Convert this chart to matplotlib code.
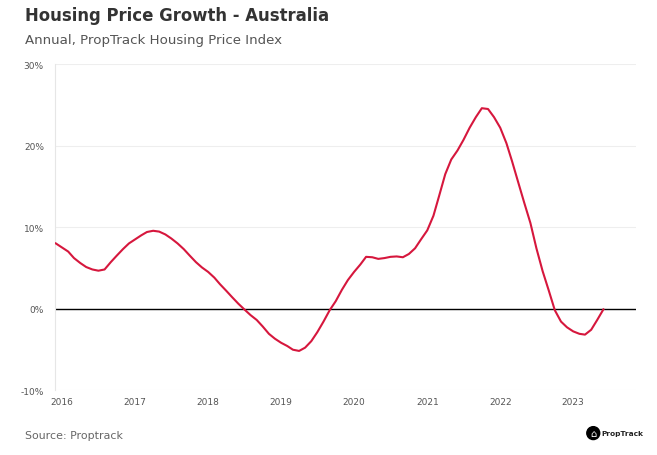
import numpy as np
import pandas as pd
import matplotlib
matplotlib.use('Agg')
import matplotlib.pyplot as plt

# monthly annual growth, Dec 2015 .. May 2023 (%)
months = pd.date_range('2015-12-01', periods=91, freq='MS')
growth = [8.0, 7.5, 7.0, 6.2, 5.6, 5.1, 4.8, 4.65, 4.8, 5.7,
          6.5, 7.3, 8.0, 8.5, 9.0, 9.4, 9.55, 9.45, 9.1, 8.6,
          8.0, 7.3, 6.5, 5.7, 5.05, 4.5, 3.8, 3.0, 2.2, 1.4,
          0.6, -0.1, -0.8, -1.4, -2.2, -3.1, -3.7, -4.2, -4.6, -5.05,
          -5.2, -4.8, -4.0, -2.9, -1.6, -0.2, 0.9, 2.3, 3.5, 4.5,
          5.4, 6.35, 6.3, 6.1, 6.2, 6.35, 6.4, 6.3, 6.7, 7.4,
          8.5, 9.6, 11.4, 13.8, 16.5, 18.3, 19.4, 20.7, 22.2, 23.5,
          24.6, 24.5, 23.5, 22.2, 20.3, 18.1, 15.5, 13.0, 10.5, 7.4,
          4.6, 2.2, -0.2, -1.6, -2.3, -2.8, -3.1, -3.2, -2.6, -1.4,
          -0.1]
years = list(range(2016, 2024))
yticks = [-10, 0, 10, 20, 30]

plt.rcParams['font.family'] = ['DejaVu Sans']

fig = plt.figure(figsize=(6.57, 4.56), dpi=100)
ax = fig.add_axes([0.0837, 0.1425, 0.884, 0.7145])

ax.plot(months, growth, color='#d6173d', lw=1.5, zorder=3)
ax.axhline(0, color='black', lw=1, zorder=2)

ax.set_ylim(-10, 30)
ax.set_yticks(yticks)
ax.set_yticklabels([f'{t}%' for t in yticks])
ax.set_xlim(pd.Timestamp('2015-11-27'), pd.Timestamp('2023-11-10'))
ax.set_xticks([pd.Timestamp(f'{y}-01-01') for y in years])
ax.set_xticklabels([str(y) for y in years])

ax.grid(axis='y', color='#eeeeee', lw=0.8)
for s in ['top', 'right', 'bottom']:
    ax.spines[s].set_visible(False)
ax.spines['left'].set_color('#e6e6e6')
ax.tick_params(length=0, labelsize=6.5, colors='#555555')
ax.tick_params(axis='y', pad=8)
ax.tick_params(axis='x', pad=5)

fig.text(0.038, 0.965, 'Housing Price Growth - Australia', fontsize=11.9,
         fontweight='bold', color='#333333', va='center')
fig.text(0.038, 0.912, 'Annual, PropTrack Housing Price Index', fontsize=9.6,
         color='#555555', va='center')
fig.text(0.038, 0.044, 'Source: Proptrack', fontsize=7.9, color='#666666', va='center')

# logo
fig.text(0.903, 0.048, '\u2302', fontsize=7, color='white', ha='center', va='center',
         bbox=dict(boxstyle='circle,pad=0.15', fc='black', ec='black'))
fig.text(0.916, 0.048, 'PropTrack', fontsize=5.3, fontweight='bold', color='#222222',
         va='center')

fig.savefig('out.png', dpi=100)
